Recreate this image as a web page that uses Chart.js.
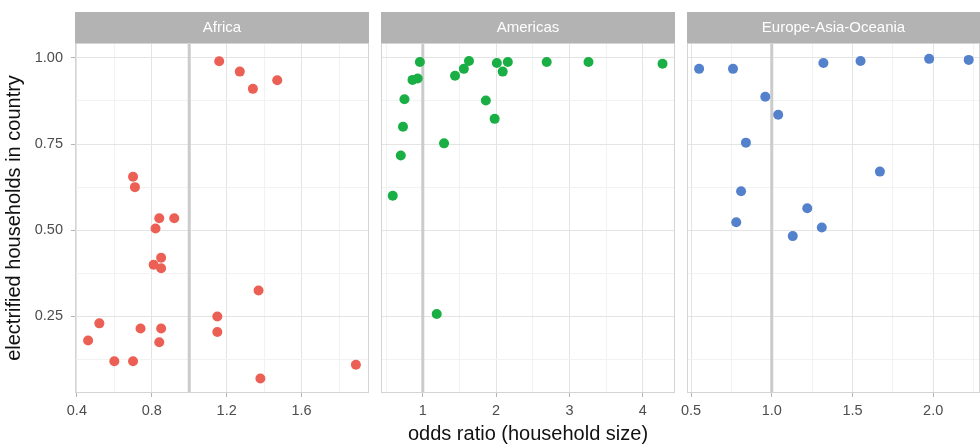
<!DOCTYPE html>
<html>
<head>
<meta charset="utf-8">
<script src="https://cdn.jsdelivr.net/npm/chart.js@4.4.0/dist/chart.umd.min.js"></script>
<style>
  body { margin: 0; background: #fff; width: 980px; height: 446px; overflow: hidden; position: relative; }
  canvas { position: absolute; top: 0; }
</style>
</head>
<body>
<canvas id="africaChart" width="372" height="446" style="left:0px"></canvas>
<canvas id="americasChart" width="309" height="446" style="left:371px"></canvas>
<canvas id="europeChart" width="299" height="446" style="left:681px"></canvas>
<script>
// Facet names and reference line (odds ratio = 1)
const panelNames = ['Africa', 'Americas', 'Europe-Asia-Oceania'];
const refOddsRatio = 1;

// Africa
const africaX = [1.16, 1.27, 1.34, 1.47, 0.70, 0.71, 0.84, 0.92, 0.82, 0.85, 0.81, 0.85, 1.37, 0.52, 1.15, 0.74, 0.85, 0.46, 1.15, 0.84, 0.60, 0.70, 1.89, 1.38];
const africaY = [0.99, 0.96, 0.91, 0.935, 0.655, 0.625, 0.535, 0.535, 0.505, 0.42, 0.40, 0.39, 0.325, 0.23, 0.25, 0.215, 0.215, 0.18, 0.205, 0.175, 0.12, 0.12, 0.11, 0.07];

// Americas
const americasX = [0.96, 1.63, 1.56, 1.44, 2.01, 2.16, 2.09, 2.69, 3.26, 4.27, 0.86, 0.93, 0.75, 1.86, 1.98, 0.73, 1.29, 0.70, 0.59, 1.19];
const americasY = [0.988, 0.991, 0.968, 0.948, 0.985, 0.988, 0.96, 0.988, 0.988, 0.983, 0.936, 0.94, 0.88, 0.876, 0.823, 0.80, 0.752, 0.717, 0.60, 0.257];

// Europe-Asia-Oceania
const europeX = [0.55, 0.76, 1.32, 1.55, 1.975, 2.22, 0.96, 1.04, 0.84, 1.67, 0.81, 1.22, 0.78, 1.13, 1.31];
const europeY = [0.968, 0.968, 0.985, 0.991, 0.997, 0.994, 0.887, 0.835, 0.754, 0.67, 0.613, 0.564, 0.523, 0.483, 0.508];

// Tick / grid values
const yGridValues = [0.125, 0.25, 0.375, 0.5, 0.625, 0.75, 0.875, 1.0];
const yTickValues = [0.25, 0.5, 0.75, 1.0];
const yTickLabels = ['0.25', '0.50', '0.75', '1.00'];

const africaGridValues = [0.4, 0.6, 0.8, 1.0, 1.2, 1.4, 1.6, 1.8];
const africaTickValues = [0.4, 0.8, 1.2, 1.6];
const africaTickLabels = ['0.4', '0.8', '1.2', '1.6'];

const americasGridValues = [0.5, 1, 1.5, 2, 2.5, 3, 3.5, 4];
const americasTickValues = [1, 2, 3, 4];
const americasTickLabels = ['1', '2', '3', '4'];

const europeGridValues = [0.5, 0.75, 1, 1.25, 1.5, 1.75, 2, 2.25];
const europeTickValues = [0.5, 1, 1.5, 2];
const europeTickLabels = ['0.5', '1.0', '1.5', '2.0'];

const FONT = '"Liberation Sans", Arial, sans-serif';
const MAJOR_GRID = '#e4e4e4';
const MINOR_GRID = '#f2f2f2';
const TICK_COLOR = '#b3b3b3';

function isIn(values, v) {
    return values.some(t => Math.abs(t - v) < 1e-9);
}

function labelFor(values, labels, v) {
    const i = values.findIndex(t => Math.abs(t - v) < 1e-9);
    return i >= 0 ? labels[i] : '';
}

// strip header, panel border and the vertical reference line
const panelDecor = {
    id: 'panelDecor',
    beforeDatasetsDraw(chart, args, opts) {
        const { ctx, chartArea: a } = chart;
        const x = chart.scales.x.getPixelForValue(opts.ref);
        ctx.save();
        ctx.strokeStyle = '#cbcbcb';
        ctx.lineWidth = 3;
        ctx.beginPath();
        ctx.moveTo(x, a.top);
        ctx.lineTo(x, a.bottom);
        ctx.stroke();
        ctx.strokeStyle = '#d4d4d4';
        ctx.lineWidth = 1;
        ctx.strokeRect(a.left + 0.5, a.top + 0.5, a.right - a.left - 1, a.bottom - a.top - 1);
        ctx.restore();
    },
    afterDraw(chart, args, opts) {
        const { ctx, chartArea: a } = chart;
        ctx.save();
        ctx.fillStyle = '#b3b3b3';
        ctx.fillRect(a.left, 12, a.right - a.left, 31);
        ctx.fillStyle = '#ffffff';
        ctx.font = '15px ' + FONT;
        ctx.textAlign = 'center';
        ctx.textBaseline = 'middle';
        ctx.fillText(opts.title, (a.left + a.right) / 2, 28);
        ctx.restore();
    }
};

function makePanel(canvasId, title, xs, ys, color, xMin, xMax, gridValues, tickValues, tickLabels, cfg) {
    const points = xs.map((x, i) => ({ x: x, y: ys[i] }));
    return new Chart(document.getElementById(canvasId), {
        type: 'scatter',
        data: {
            datasets: [{
                data: points,
                backgroundColor: color,
                borderWidth: 0,
                pointRadius: 5,
                pointHoverRadius: 5
            }]
        },
        options: {
            responsive: false,
            animation: false,
            devicePixelRatio: 1,
            layout: { autoPadding: false, padding: { top: 43, right: cfg.padRight, left: 0, bottom: 0 } },
            plugins: {
                legend: { display: false },
                tooltip: { enabled: false },
                panelDecor: { title: title, ref: refOddsRatio }
            },
            scales: {
                x: {
                    type: 'linear',
                    min: xMin,
                    max: xMax,
                    afterBuildTicks: s => { s.ticks = gridValues.map(v => ({ value: v })); },
                    afterFit: s => { s.height = 53; s.paddingLeft = 0; s.paddingRight = 0; },
                    border: { display: false },
                    grid: {
                        color: c => (c.tick && isIn(tickValues, c.tick.value)) ? MAJOR_GRID : MINOR_GRID,
                        tickColor: c => (c.tick && isIn(tickValues, c.tick.value)) ? TICK_COLOR : 'rgba(0,0,0,0)',
                        tickLength: 4
                    },
                    ticks: {
                        autoSkip: false,
                        maxRotation: 0,
                        padding: 5,
                        color: '#4d4d4d',
                        font: { family: FONT, size: 14.5 },
                        callback: v => labelFor(tickValues, tickLabels, v)
                    },
                    title: {
                        display: !!cfg.xTitle,
                        text: cfg.xTitle || '',
                        color: '#111111',
                        font: { family: FONT, size: 20 },
                        padding: { top: 0, bottom: 0 }
                    }
                },
                y: {
                    type: 'linear',
                    min: 0.028,
                    max: 1.043,
                    afterBuildTicks: s => { s.ticks = yGridValues.map(v => ({ value: v })); },
                    afterFit: s => { s.width = cfg.yWidth; s.paddingTop = 0; s.paddingBottom = 0; },
                    border: { display: false },
                    grid: {
                        color: c => (c.tick && isIn(yTickValues, c.tick.value)) ? MAJOR_GRID : MINOR_GRID,
                        tickColor: c => (c.tick && isIn(yTickValues, c.tick.value)) ? TICK_COLOR : 'rgba(0,0,0,0)',
                        tickLength: 4,
                        drawTicks: cfg.showY
                    },
                    ticks: {
                        display: cfg.showY,
                        autoSkip: false,
                        padding: 8,
                        color: '#4d4d4d',
                        font: { family: FONT, size: 14.5 },
                        callback: v => labelFor(yTickValues, yTickLabels, v)
                    },
                    title: {
                        display: cfg.showY,
                        text: 'electrified households in country',
                        color: '#111111',
                        font: { family: FONT, size: 20 },
                        padding: { top: 2, bottom: 0 }
                    }
                }
            }
        },
        plugins: [panelDecor]
    });
}

makePanel('africaChart', panelNames[0], africaX, africaY, '#ec5f55', 0.39, 1.96,
    africaGridValues, africaTickValues, africaTickLabels,
    { showY: true, yWidth: 75, padRight: 3 });

makePanel('americasChart', panelNames[1], americasX, americasY, '#1aaf45', 0.43, 4.44,
    americasGridValues, americasTickValues, americasTickLabels,
    { showY: false, yWidth: 10, padRight: 5, xTitle: 'odds ratio (household size)' });

makePanel('europeChart', panelNames[2], europeX, europeY, '#5481cc', 0.475, 2.29,
    europeGridValues, europeTickValues, europeTickLabels,
    { showY: false, yWidth: 6, padRight: 0 });
</script>
</body>
</html>
